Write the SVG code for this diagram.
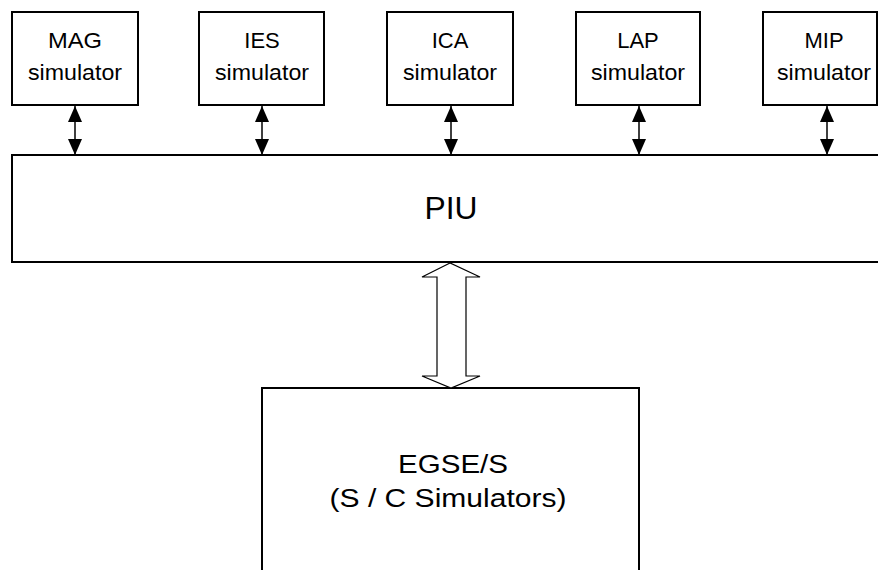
<svg xmlns="http://www.w3.org/2000/svg" width="878" height="570" viewBox="0 0 878 570">
<defs>
<marker id="tri" markerUnits="userSpaceOnUse" markerWidth="17" markerHeight="15" refX="16" refY="7" orient="auto-start-reverse" viewBox="0 0 17 15">
<path d="M0,0 L16,7 L0,14 z" fill="#000"/>
</marker>
<style>
.box{fill:#fff;stroke:#000;stroke-width:2}
.t{font-family:"Liberation Sans",Arial,sans-serif;fill:#000;text-anchor:middle}
.s{font-size:22px}
.link{stroke:#000;stroke-width:1.5;fill:none;marker-start:url(#tri);marker-end:url(#tri)}
.fat{fill:#fff;stroke:#000;stroke-width:1.2}
</style>
</defs>
<rect width="878" height="570" fill="#fff"/>
<g id="mag">
<rect class="box" x="12" y="12" width="126" height="93"/>
<text class="t s" x="75" y="48" textLength="54" lengthAdjust="spacingAndGlyphs">MAG</text>
<text class="t s" x="75" y="80" textLength="94" lengthAdjust="spacingAndGlyphs">simulator</text>
</g>
<g id="ies">
<rect class="box" x="199" y="12" width="125" height="93"/>
<text class="t s" x="262" y="48">IES</text>
<text class="t s" x="262" y="80" textLength="94" lengthAdjust="spacingAndGlyphs">simulator</text>
</g>
<g id="ica">
<rect class="box" x="387" y="12" width="126" height="93"/>
<text class="t s" x="450" y="48">ICA</text>
<text class="t s" x="450" y="80" textLength="94" lengthAdjust="spacingAndGlyphs">simulator</text>
</g>
<g id="lap">
<rect class="box" x="576" y="12" width="124" height="93"/>
<text class="t s" x="638" y="48">LAP</text>
<text class="t s" x="638" y="80" textLength="94" lengthAdjust="spacingAndGlyphs">simulator</text>
</g>
<g id="mip">
<rect class="box" x="763" y="12" width="114" height="93"/>
<text class="t s" x="824" y="48">MIP</text>
<text class="t s" x="824" y="80" textLength="94" lengthAdjust="spacingAndGlyphs">simulator</text>
</g>
<g id="piu">
<rect class="box" x="12" y="155" width="880" height="107"/>
<text class="t" x="451" y="219" font-size="31" textLength="53" lengthAdjust="spacingAndGlyphs">PIU</text>
</g>
<g id="egse">
<rect class="box" x="262" y="388" width="377" height="200"/>
<text class="t" x="453" y="473" font-size="26" textLength="110" lengthAdjust="spacingAndGlyphs">EGSE/S</text>
<text class="t" x="448" y="507" font-size="26" textLength="237" lengthAdjust="spacingAndGlyphs">(S / C Simulators)</text>
</g>
<g id="connectors">
<line class="link" x1="75" y1="106" x2="75" y2="155"/>
<line class="link" x1="262" y1="106" x2="262" y2="155"/>
<line class="link" x1="451" y1="106" x2="451" y2="155"/>
<line class="link" x1="639" y1="106" x2="639" y2="155"/>
<line class="link" x1="827" y1="106" x2="827" y2="155"/>
<polygon class="fat" points="450,263 422,277 437,277 437,376 422,376 451,388 480,376 466,376 466,277 480,277"/>
</g>
</svg>
